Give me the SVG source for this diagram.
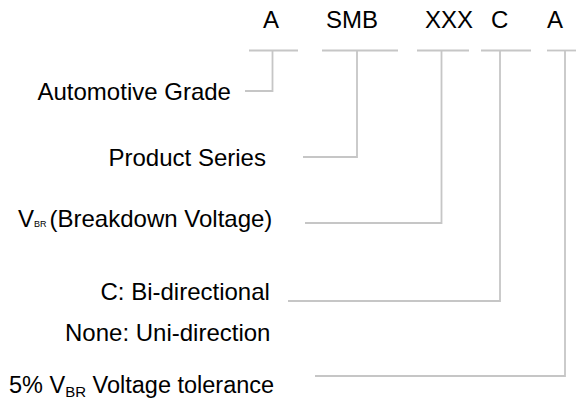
<svg xmlns="http://www.w3.org/2000/svg" width="576" height="406" viewBox="0 0 576 406">
<style>
text{font-family:"Liberation Sans",Arial,sans-serif;font-size:24px;fill:#000}
.sub{font-size:9px}
.sub2{font-size:15px}
.ln{fill:none;stroke:#c6c6c6;stroke-width:1.8}
</style>
<rect width="576" height="406" fill="#fff"/>
<g id="code">
<text x="263" y="28">A</text>
<text x="326" y="28">SMB</text>
<text x="425" y="28">XXX</text>
<text x="491" y="28">C</text>
<text x="547" y="28">A</text>
</g>
<g id="connectors">
<line class="ln" x1="249" y1="50.5" x2="298" y2="50.5"/>
<line class="ln" x1="322" y1="50.5" x2="398" y2="50.5"/>
<line class="ln" x1="417" y1="50.5" x2="469" y2="50.5"/>
<line class="ln" x1="481" y1="50.5" x2="531" y2="50.5"/>
<line class="ln" x1="547" y1="50.5" x2="576" y2="50.5"/>
<polyline class="ln" points="272.5,50.5 272.5,91 245,91"/>
<polyline class="ln" points="357,50.5 357,157 303,157"/>
<polyline class="ln" points="441.5,50.5 441.5,223 305,223"/>
<polyline class="ln" points="500,50.5 500,301 288,301"/>
<polyline class="ln" points="565,50.5 565,376 315,376"/>
</g>
<g id="automotive"><text x="37.5" y="100">Automotive Grade</text></g>
<g id="series"><text x="108.5" y="166">Product Series</text></g>
<g id="vbr"><text x="18" y="226.5">V<tspan class="sub">BR</tspan><tspan dx="3">(Breakdown Voltage)</tspan></text></g>
<g id="direction">
<text x="100.5" y="300">C: Bi-directional</text>
<text x="65" y="341">None: Uni-direction</text>
</g>
<g id="tolerance"><text x="9" y="393" style="font-size:23.5px">5% V<tspan class="sub2" dy="4">BR</tspan><tspan dy="-4"> Voltage tolerance</tspan></text></g>
</svg>
